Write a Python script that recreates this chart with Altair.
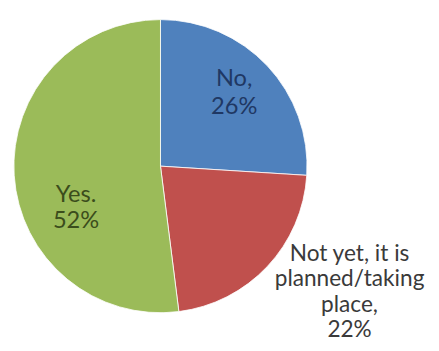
import altair as alt
import pandas as pd

categories = ["No", "Not yet, it is planned/taking place", "Yes"]
values = [26, 22, 52]
labels = ["No,\n26%", "Not yet, it is\nplanned/taking\nplace,\n22%", "Yes.\n52%"]
colors = ["#4F81BD", "#C0504D", "#9BBB59"]

df = pd.DataFrame({
    "idx": list(range(len(categories))),
    "cat": categories,
    "value": values,
    "label": labels,
})

base = alt.Chart(df).encode(
    theta=alt.Theta("value:Q", stack=True),
    order=alt.Order("idx:Q"),
)

pie = base.mark_arc(outerRadius=149, stroke="white", strokeWidth=0.8).encode(
    color=alt.Color("cat:N", scale=alt.Scale(domain=categories, range=colors), legend=None)
)


def label_layer(i, r, dx, dy, color, lh, fs):
    return base.transform_calculate(
        t=f"datum.idx == {i} ? datum.label : ''"
    ).mark_text(
        radius=r, dx=dx, dy=dy, font="Lato", fontSize=fs, lineBreak="\n",
        lineHeight=lh, color=color, align="center", baseline="middle",
    ).encode(text="t:N")


chart = alt.layer(
    pie,
    label_layer(0, 100, 2, -20, "#1F3864", 28, 24),
    label_layer(1, 228, 26, -67, "#3A3A3A", 26, 23),
    label_layer(2, 90, 4, 24, "#3B4D1C", 26, 24),
).properties(
    width=310, height=316,
    padding={"left": 0, "top": 0, "right": 120, "bottom": 19},
    autosize="none",
).configure_view(stroke=None)

chart.save("out.html", embed_options={"renderer": "svg", "actions": False})
